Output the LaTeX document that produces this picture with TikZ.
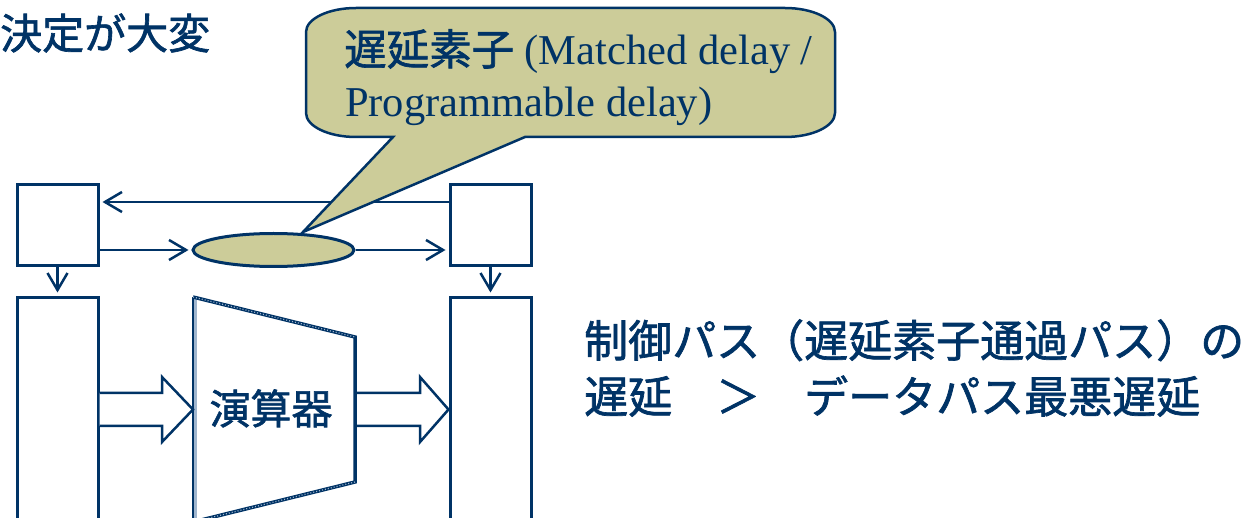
\documentclass[tikz,border=0pt]{standalone}
\usepackage{fontspec}
\setmainfont{Liberation Serif}
\newfontfamily\tms{Liberation Serif}
\newfontfamily\jp[FakeBold=1.5]{Noto Sans CJK JP}
\usetikzlibrary{arrows.meta,shapes.geometric}
\definecolor{navy}{RGB}{0,51,102}
\definecolor{olive}{RGB}{204,204,153}
\definecolor{lightedge}{RGB}{160,182,206}
\tikzset{
  regbox/.style={draw=navy, line width=3pt, fill=white, inner sep=0pt},
  arr/.style={draw=navy, line width=2.5pt, -{Straight Barb[length=17pt,width=20pt,line width=2.5pt]}},
  blockarr/.style={draw=navy, line width=2.5pt, fill=white, line join=miter},
  jptext/.style={text=navy, inner sep=0pt, font=\jp},
}
\begin{document}
\begin{tikzpicture}[x=1pt,y=-1pt]
\useasboundingbox (0,0) rectangle (1256,518);
\clip (0,0) rectangle (1256,518);
\fill[white] (0,0) rectangle (1256,518);

% registers
\node[regbox, minimum width=81pt, minimum height=81pt] (ltop) at (57.5,225.5) {};
\node[regbox, minimum width=81pt, minimum height=81pt] (rtop) at (490.5,225.5) {};
\node[regbox, minimum width=81pt, minimum height=250pt] (lbot) at (57.5,423) {};
\node[regbox, minimum width=81pt, minimum height=250pt] (rbot) at (490.5,423) {};

% delay element
\node[ellipse, draw=navy, line width=3pt, fill=olive, minimum width=161pt, minimum height=33pt, inner sep=0pt] (dly) at (273.5,250) {};

% control path
\draw[arr, shorten >=3pt] ([yshift=23.5pt]rtop.west) -- ([yshift=23.5pt]ltop.east);
\draw[arr, shorten >=3pt] (ltop.east |- dly.west) -- (dly.west);
\draw[arr, shorten >=3pt] (dly.east) -- (rtop.west |- dly.east);
\draw[arr, shorten >=4pt] (ltop.south) -- (lbot.north);
\draw[arr, shorten >=4pt] (rtop.south) -- (rbot.north);

% ALU trapezoid
\coordinate (t1) at (193,297);
\coordinate (t2) at (355,337);
\coordinate (t3) at (355,482);
\coordinate (t4) at (193,522);
\fill[white] (t1) -- (t2) -- (t3) -- (t4) -- cycle;
\draw[lightedge, line width=4pt] ([xshift=1.5pt]t1) -- ([xshift=1.5pt]t4);
\draw[navy, line width=2pt] ([xshift=-0.5pt]t1) -- ([xshift=-0.5pt]t4);
\draw[navy, line width=3.5pt, line join=miter] (t1) -- (t2) -- (t3) -- (t4);
\draw[lightedge, line width=1.2pt, dash pattern=on 1pt off 2pt] (t1) -- (t2);
\draw[lightedge, line width=1.2pt, dash pattern=on 1pt off 2pt] (t3) -- (t4);
\node[jptext, font=\jp\fontsize{41}{41}\selectfont, anchor=base] (alu) at (271,424) {演算器};

% data path block arrows
\draw[blockarr] (lbot.east |- 0,393) -- (162,393) -- (162,377) -- (193,409.5) -- (162,442) -- (162,426) -- (lbot.east |- 0,426);
\draw[blockarr] (357,393) -- (420,393) -- (420,377) -- (rbot.west |- 0,409.5) -- (420,442) -- (420,426) -- (357,426);

% callout
\draw[navy, fill=olive, line width=2.5pt, line join=miter]
  (356,8) -- (785,8) .. controls (812.6,8) and (835,18.8) .. (835,32)
  -- (835,113) .. controls (835,126.2) and (812.6,137) .. (785,137)
  -- (525,137) -- (303,232) -- (393,137) -- (356,137)
  .. controls (328.4,137) and (306,126.2) .. (306,113)
  -- (306,32) .. controls (306,18.8) and (328.4,8) .. (356,8) -- cycle;
\node[text=navy, inner sep=0pt, anchor=base west, font=\tms\fontsize{42.5}{42.5}\selectfont] (c1) at (344,65) {{\jp 遅延素子} (Matched delay /};
\node[text=navy, inner sep=0pt, anchor=base west, font=\tms\fontsize{42.5}{42.5}\selectfont] (c2) at (345,117) {Programmable delay)};

% texts
\node[jptext, font=\jp\fontsize{42}{42}\selectfont, anchor=base west] (title) at (0,49) {決定が大変};
\node[jptext, font=\jp\fontsize{44}{44}\selectfont, anchor=base west] (r1) at (584,357) {制御パス（遅延素子通過パス）の};
\node[jptext, font=\jp\fontsize{44}{44}\selectfont, anchor=base west] (r2) at (584,413) {遅延　＞　データパス最悪遅延};
\end{tikzpicture}
\end{document}
